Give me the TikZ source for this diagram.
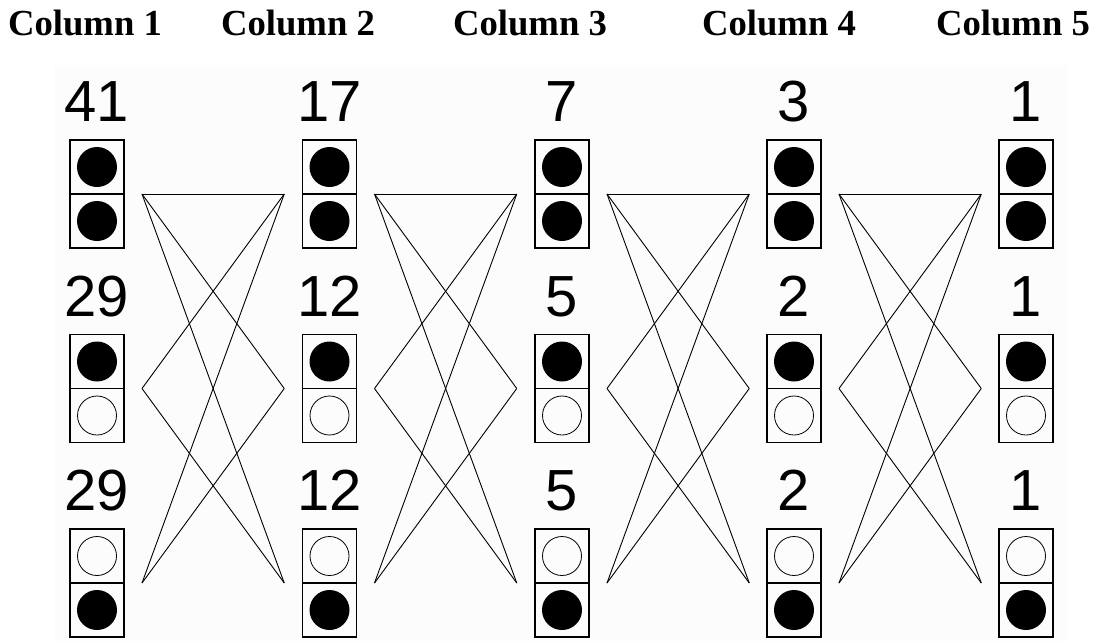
\documentclass[tikz,border=0pt]{standalone}
\usepackage{fontspec}
\setmainfont{Liberation Serif}
\newfontfamily\numfont{Liberation Sans}
\begin{document}
\begin{tikzpicture}[x=1pt,y=-1pt,
  cell/.style={draw,line width=1.2pt,minimum size=54pt,inner sep=0pt,outer sep=0pt},
  fulldot/.style={circle,fill=black,minimum size=40pt,inner sep=0pt},
  emptydot/.style={circle,draw,line width=0.8pt,minimum size=39pt,inner sep=0pt},
  head/.style={font=\fontsize{36.7}{40}\selectfont\bfseries,anchor=base,inner sep=0pt},
  num/.style={font=\numfont\fontsize{58}{60}\selectfont,anchor=base,inner sep=0pt},
  link/.style={line width=0.9pt}]
\useasboundingbox (0,0) rectangle (1098,641);
\fill[black!1] (55,65) rectangle (1068,641);
% headers
\foreach \c/\hx in {1/85,2/298,3/530,4/779,5/1013}
  \node[head] (h\c) at (\hx,35.5) {Column \c};
% boxes
\foreach \c/\x in {1/70,2/302.5,3/535,4/767,5/999} {
  \foreach \g/\t/\fa/\fb in {1/140/fulldot/fulldot,2/334.5/fulldot/emptydot,3/529/emptydot/fulldot} {
    \node[cell] (c\c g\g a) at (\x+27,\t+27) {};
    \node[cell] (c\c g\g b) at (\x+27,\t+81) {};
    \node[\fa] (d\c g\g a) at (c\c g\g a.center) {};
    \node[\fb] (d\c g\g b) at (c\c g\g b.center) {};
  }
}
% numbers
\foreach \c/\x/\na/\nb in {1/70/41/29,2/302.5/17/12,3/535/7/5,4/767/3/2,5/999/1/1} {
  \node[num] (n\c g1) at (\x+27,121.7) {\na};
  \node[num] (n\c g2) at (\x+27,316.2) {\nb};
  \node[num] (n\c g3) at (\x+27,510.7) {\nb};
}
% connectors
\foreach \c/\x in {1/70,2/302.5,3/535,4/767} {
  \foreach \g/\y in {1/194,2/388.5,3/583} {
    \coordinate (o\c-\g) at (\x+72,\y);
    \coordinate (i\c-\g) at (\x+214.25,\y);
  }
  \draw[link] (o\c-1) -- (i\c-1);
  \draw[link] (o\c-1) -- (i\c-2);
  \draw[link] (o\c-1) -- (i\c-3);
  \draw[link] (o\c-2) -- (i\c-1);
  \draw[link] (o\c-2) -- (i\c-3);
  \draw[link] (o\c-3) -- (i\c-1);
  \draw[link] (o\c-3) -- (i\c-2);
}
\end{tikzpicture}
\end{document}
